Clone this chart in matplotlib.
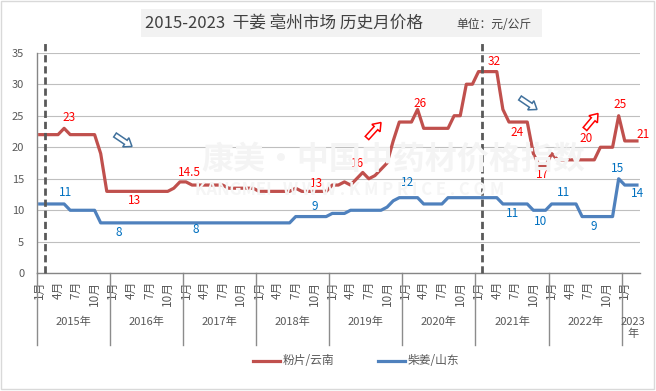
import math
import matplotlib
matplotlib.use('Agg')
import matplotlib.pyplot as plt
from matplotlib.patches import Rectangle, Polygon
from matplotlib.lines import Line2D

plt.rcParams['font.family'] = ['Noto Sans CJK SC', 'DejaVu Sans']

# monthly prices, 2015-01 .. 2023-03
years = ['2015年', '2016年', '2017年', '2018年', '2019年', '2020年', '2021年', '2022年', '2023\n年']
month_names = ['1月', '4月', '7月', '10月']

fenpian = [22, 22, 22, 22, 23, 22, 22, 22, 22, 22, 19, 13,
           13, 13, 13, 13, 13, 13, 13, 13, 13, 13, 13.5, 14.5,
           14.5, 14, 14, 14, 14, 14, 14, 13.5, 13.5, 13.5, 13.5, 13.5,
           13, 13, 13, 13, 13, 13, 13.5, 13, 13, 13, 13, 13,
           14, 14, 14.5, 14, 15, 16, 15, 15.5, 16.5, 17.5, 21, 24,
           24, 24, 26, 23, 23, 23, 23, 23, 25, 25, 30, 30,
           32, 32, 32, 32, 26, 24, 24, 24, 24, 19, 17, 17,
           19, 18, 18, 18, 18, 18, 18, 18, 20, 20, 20, 25,
           21, 21, 21]
chaijiang = [11, 11, 11, 11, 11, 10, 10, 10, 10, 10, 8, 8,
             8, 8, 8, 8, 8, 8, 8, 8, 8, 8, 8, 8,
             8, 8, 8, 8, 8, 8, 8, 8, 8, 8, 8, 8,
             8, 8, 8, 8, 8, 8, 9, 9, 9, 9, 9, 9,
             9.5, 9.5, 9.5, 10, 10, 10, 10, 10, 10, 10.5, 11.5, 12,
             12, 12, 12, 11, 11, 11, 11, 12, 12, 12, 12, 12,
             12, 12, 12, 12, 11, 11, 11, 11, 11, 10, 10, 10,
             11, 11, 11, 11, 11, 9, 9, 9, 9, 9, 9, 15,
             14, 14, 14]

# (index, text, dx px, dy px)
red_labels = [(4, '23', 5, 11), (15, '13', 3, -9), (23, '14.5', 10, 9),
              (45, '13', 3, 8), (53, '16', -5, 9), (62, '26', 2, 6),
              (73, '32', 10, 10), (78, '24', 2, -10), (82, '17', 3, -8),
              (92, '20', -14, 9), (95, '25', 1, 11), (98, '21', 6, 6)]
blue_labels = [(4, '11', 1, 11), (13, '8', 0, -10), (26, '8', -2, -7),
               (45, '9', 1, 10), (61, '12', -4, 15), (77, '11', 4, -10),
               (82, '10', 1, -11), (86, '11', 0, 11), (91, '9', -1, -10),
               (95, '15', -1, 10), (98, '14', 1, -8)]

W, H = 656, 391
fig = plt.figure(figsize=(W / 100, H / 100), dpi=100)
fig.patch.set_facecolor('white')

def fx(px):
    return px / W

def fy(py):
    return 1 - py / H

ax = fig.add_axes([fx(36.7), fy(273.3), fx(640) - fx(36.7), fy(52.7) - fy(273.3)])
n = len(fenpian)
xs = list(range(n))

# faint watermark
fig.text(fx(393), fy(160), '康美·中国中药材价格指数', fontsize=23, fontweight='bold',
         color='#F4F4F4', ha='center', va='center', zorder=0)
fig.text(fx(350), fy(190), 'KANGMEI   W W W . K M P R I C E . C O M', fontsize=12,
         fontweight='bold', color='#F5F5F5', ha='center', va='center', zorder=0)
ax.patch.set_alpha(0)

ax.plot(xs, fenpian, color='#C0504D', lw=2.3, solid_joinstyle='round', zorder=3)
ax.plot(xs, chaijiang, color='#4F81BD', lw=2.3, solid_joinstyle='round', zorder=3)

for i, t, dx, dy in red_labels:
    ax.annotate(t, (i, fenpian[i]), xytext=(dx, dy), textcoords='offset pixels',
                ha='center', va='center', fontsize=8.5, color='#FF0000', zorder=4)
for i, t, dx, dy in blue_labels:
    ax.annotate(t, (i, chaijiang[i]), xytext=(dx, dy), textcoords='offset pixels',
                ha='center', va='center', fontsize=8.5, color='#0070C0', zorder=4)

ax.set_xlim(-0.5, n - 0.5)
ax.set_ylim(0, 35)
ax.set_yticks(range(0, 36, 5))
ax.yaxis.grid(True, color='#BFBFBF', lw=0.8)
ax.set_axisbelow(True)
for s in ['top', 'right']:
    ax.spines[s].set_visible(False)
for s in ['left', 'bottom']:
    ax.spines[s].set_color('#868686')
    ax.spines[s].set_linewidth(1)
ax.tick_params(axis='y', length=0, pad=9, labelsize=8, labelcolor='#595959')

# month ticks
mt, ml = [], []
for k in range(len(years)):
    for j, m in enumerate(month_names):
        p = 12 * k + 3 * j
        if p < n:
            mt.append(p)
            ml.append(m)
ax.set_xticks(mt)
ax.set_xticklabels(ml, rotation=90, fontsize=8.5, color='#595959')
ax.tick_params(axis='x', length=0, pad=5.5)

# year level
axh = 273.3 - 52.7
for k, y in enumerate(years):
    start = 12 * k - 0.5
    end = min(12 * k + 11.5, n - 0.5)
    ax.plot([start, start], [0, -71.7 / axh], transform=ax.get_xaxis_transform(),
            color='#8C8C8C', lw=1, clip_on=False)
    last = k == len(years) - 1
    ax.text((start + end) / 2 + (0.3 if last else 0),
            -(328 - 273.3) / axh if last else -(322 - 273.3) / axh,
            y, transform=ax.get_xaxis_transform(), ha='center', va='center',
            fontsize=8, color='#595959', linespacing=1.3)

# dashed separators
for xv in [0.85, 72.6]:
    ax.plot([xv, xv], [0, 1 + 10.5 / axh], transform=ax.get_xaxis_transform(),
            color='#595959', lw=2, ls=(0, (2.6, 1.4)), clip_on=False, zorder=5)

# hollow arrows, drawn in pixel space
def hollow_arrow(p0, p1, ec):
    dx, dy = p1[0] - p0[0], p1[1] - p0[1]
    L = math.hypot(dx, dy)
    ux, uy = dx / L, dy / L
    nx, ny = -uy, ux
    hl, hw, tw = 7.5, 5.5, 2.4
    bx, by = p1[0] - ux * hl, p1[1] - uy * hl
    pts = [(p0[0] + nx * tw, p0[1] + ny * tw), (bx + nx * tw, by + ny * tw),
           (bx + nx * hw, by + ny * hw), p1,
           (bx - nx * hw, by - ny * hw), (bx - nx * tw, by - ny * tw),
           (p0[0] - nx * tw, p0[1] - ny * tw)]
    fig.patches.append(Polygon([(fx(a), fy(b)) for a, b in pts], closed=True,
                               transform=fig.transFigure, fc='white', ec=ec, lw=1.1, zorder=6))

hollow_arrow((115, 135), (132, 146.5), '#41719C')
hollow_arrow((520, 98), (537, 109.5), '#41719C')
hollow_arrow((367, 138), (381, 122.5), '#FF0000')
hollow_arrow((585, 129), (598, 113.5), '#FF0000')

# title box
fig.patches.append(Rectangle((fx(140.7), fy(36.7)), fx(541.7) - fx(140.7), fy(9) - fy(36.7),
                             transform=fig.transFigure, fc='#F2F2F2', ec='none', zorder=0))
fig.text(fx(145), fy(23), '2015-2023  干姜 亳州市场 历史月价格', fontsize=12,
         color='#404040', ha='left', va='center')
fig.text(fx(456), fy(24), '单位：元/公斤', fontsize=8.5, color='#404040', ha='left', va='center')

# legend
fig.lines.append(Line2D([fx(253), fx(280)], [fy(361), fy(361)], transform=fig.transFigure,
                        color='#C0504D', lw=2.3))
fig.text(fx(283), fy(361), '粉片/云南', fontsize=8.5, color='#595959', ha='left', va='center')
fig.lines.append(Line2D([fx(378), fx(405)], [fy(361), fy(361)], transform=fig.transFigure,
                        color='#4F81BD', lw=2.3))
fig.text(fx(408), fy(361), '柴姜/山东', fontsize=8.5, color='#595959', ha='left', va='center')

# outer frame
fig.patches.append(Rectangle((fx(1), fy(389)), fx(654) - fx(1), fy(1) - fy(389),
                             transform=fig.transFigure, fc='none', ec='#D9D9D9', lw=1))

fig.savefig('out.png', dpi=100)
